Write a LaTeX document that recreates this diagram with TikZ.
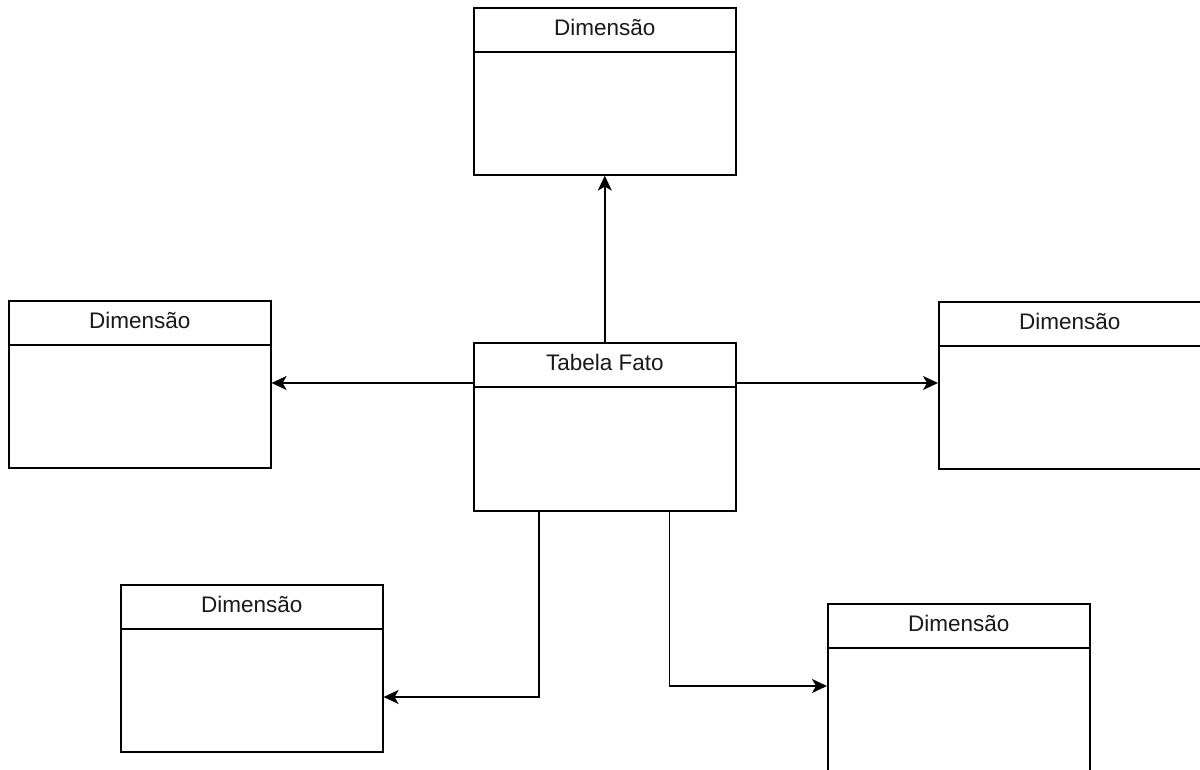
\documentclass[tikz,border=0pt]{standalone}
\usepackage{fontspec}
\setmainfont{Liberation Sans}
\usetikzlibrary{arrows.meta,calc}
\begin{document}
\begin{tikzpicture}[x=1pt,y=-1pt,
  tbl/.style={draw=black,line width=1.6pt,rectangle,anchor=north west,minimum width=262pt,minimum height=167pt,inner sep=0pt,fill=white},
  hdr/.style={font=\fontsize{22.5}{26}\selectfont,text=black!90,inner sep=0pt,anchor=center},
  arr/.style={draw=black,line width=1.6pt,-{Stealth[length=15pt,width=14pt,inset=4pt]}}]
\useasboundingbox (0,0) rectangle (1200,769);
\clip (0,0) rectangle (1200,769);
\fill[white] (0,0) rectangle (1200,769);
% boxes
\node[tbl] (d1) at (473,7) {};
\node[tbl] (d2) at (8,300) {};
\node[tbl,minimum height=168pt] (fato) at (473,342) {};
\node[tbl] (d4) at (938,301) {};
\node[tbl] (d3) at (120,584) {};
\node[tbl] (d5) at (827,603) {};
% headers
\foreach \b/\t in {d1/Dimensão,d2/Dimensão,fato/Tabela Fato,d4/Dimensão,d3/Dimensão,d5/Dimensão}{
  \draw[line width=1.6pt] ([yshift=-45pt]\b.north west) -- ([yshift=-45pt]\b.north east);
  \node[hdr] at ([yshift=-20pt]\b.north) {\t};
}
% connector start points
\coordinate (fl) at ([yshift=-41pt]fato.north west);
\coordinate (fr) at ([yshift=-41pt]fato.north east);
% connectors
\draw[arr] (fato.north) -- (d1.south);
\draw[arr] (fl) -- (d2.east |- fl);
\draw[arr] (fr) -- (d4.west |- fr);
\draw[arr] ([xshift=66pt]fato.south west) |- ([yshift=-113pt]d3.north east);
\draw[arr] ([xshift=-67pt]fato.south east) |- ([yshift=-83pt]d5.north west);
\end{tikzpicture}
\end{document}
